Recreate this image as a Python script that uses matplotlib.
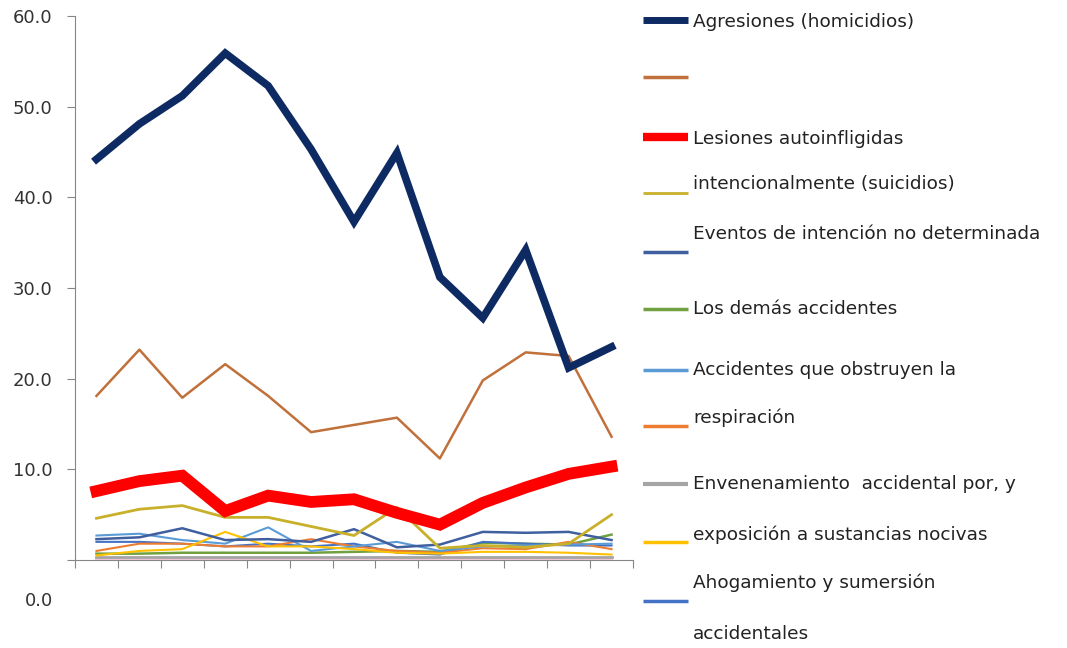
import matplotlib
matplotlib.use("Agg")
import matplotlib.pyplot as plt
from matplotlib.lines import Line2D
import numpy as np

plt.rcParams['font.family'] = ['DejaVu Sans']

# 13 periods, no category labels shown on the x axis
n_periods = 13

agresiones = [44.2, 48.1, 51.2, 55.9, 52.3, 45.3, 37.3, 44.9, 31.2, 26.7, 34.2, 21.2, 23.5]
sin_nombre = [18.1, 23.2, 17.9, 21.6, 18.1, 14.1, 14.9, 15.7, 11.2, 19.8, 22.9, 22.5, 13.6]
suicidios = [7.6, 8.7, 9.3, 5.4, 7.1, 6.4, 6.7, 5.2, 3.9, 6.3, 8.0, 9.5, 10.3]
suicidios_b = [4.6, 5.6, 6.0, 4.7, 4.7, 3.7, 2.7, 5.8, 1.3, 1.6, 1.4, 1.8, 5.0]
eventos = [2.3, 2.5, 3.5, 2.2, 2.3, 2.0, 3.4, 1.4, 1.7, 3.1, 3.0, 3.1, 2.2]
demas = [0.7, 0.7, 0.8, 0.8, 0.8, 0.8, 0.9, 1.0, 0.9, 1.9, 1.8, 1.7, 2.8]
obstruyen = [2.7, 2.9, 2.2, 1.8, 3.6, 1.0, 1.5, 2.0, 1.0, 1.5, 1.6, 1.7, 1.8]
respiracion = [1.0, 1.8, 1.8, 1.5, 1.5, 2.3, 1.5, 1.0, 0.8, 1.3, 1.2, 2.0, 1.2]
envenenamiento = [0.3, 0.3, 0.3, 0.3, 0.3, 0.3, 0.3, 0.3, 0.3, 0.3, 0.3, 0.3, 0.3]
exposicion = [0.5, 1.0, 1.2, 3.1, 1.5, 1.5, 1.2, 0.8, 0.7, 0.9, 0.9, 0.8, 0.6]
ahogamiento = [2.0, 2.0, 1.8, 1.5, 1.8, 1.5, 1.8, 0.8, 0.6, 2.0, 1.8, 1.6, 1.6]
accidentales = [0.1, 0.1, 0.1, 0.1, 0.1, 0.1, 0.1, 0.1, 0.1, 0.1, 0.1, 0.1, 0.1]

y_ticks = [0, 10, 20, 30, 40, 50, 60]

# (values, colour, width) in drawing order: small ones first, big ones on top
series = [
    (accidentales, '#F4C8D8', 1.5),
    (envenenamiento, '#A5A5A5', 2.0),
    (demas, '#70A040', 1.8),
    (ahogamiento, '#4472C4', 1.5),
    (respiracion, '#ED7D31', 1.5),
    (obstruyen, '#5B9BD5', 1.5),
    (exposicion, '#FFC000', 1.5),
    (eventos, '#3F5F9F', 1.8),
    (suicidios_b, '#C8B02A', 2.0),
    (sin_nombre, '#C0703A', 1.8),
    (suicidios, '#FF0000', 8.5),
    (agresiones, '#0E2A63', 5.5),
]

fig = plt.figure(figsize=(10.67, 6.48), dpi=100)
ax = fig.add_axes([75 / 1067, 1 - 560 / 648, (633 - 75) / 1067, (560 - 16) / 648])

x = np.arange(n_periods) + 0.5
for vals, col, lw in series:
    ax.plot(x, vals, color=col, linewidth=lw, solid_joinstyle='miter' if lw > 4 else 'round')

ax.set_xlim(0, n_periods)
ax.set_ylim(0, 60)
ax.set_xticks(np.arange(n_periods + 1))
ax.set_xticklabels([])
ax.set_yticks(y_ticks)
ax.set_yticklabels(['' if v == 0 else f'{v:.1f}' for v in y_ticks], fontsize=13, color='#333333')
ax.text(-0.04, -0.075, '0.0', transform=ax.transAxes, ha='right', va='center', fontsize=13, color='#333333')
ax.tick_params(axis='both', color='#868686', length=6, direction='out')
ax.tick_params(axis='y', pad=10)
for s in ['top', 'right']:
    ax.spines[s].set_visible(False)
for s in ['left', 'bottom']:
    ax.spines[s].set_color('#868686')

# legend drawn as in the source: keys and wrapped texts do not line up
legend_keys = [
    (20, '#0E2A63', 5.0), (77, '#C0703A', 2.5), (137, '#FF0000', 6.0),
    (193, '#C8B02A', 2.0), (252, '#3F5F9F', 2.5), (309, '#70A040', 2.5),
    (370, '#5B9BD5', 2.5), (426, '#ED7D31', 2.5), (484, '#A5A5A5', 3.0),
    (542, '#FFC000', 2.5), (601, '#4472C4', 2.5),
]
legend_texts = [
    (22, 'Agresiones (homicidios)'),
    (139, 'Lesiones autoinfligidas'),
    (184, 'intencionalmente (suicidios)'),
    (234, 'Eventos de intención no determinada'),
    (309, 'Los demás accidentes'),
    (370, 'Accidentes que obstruyen la'),
    (418, 'respiración'),
    (484, 'Envenenamiento  accidental por, y'),
    (535, 'exposición a sustancias nocivas'),
    (583, 'Ahogamiento y sumersión'),
    (634, 'accidentales'),
]
for yk, col, lw in legend_keys:
    fig.add_artist(Line2D([643 / 1067, 688 / 1067], [1 - yk / 648, 1 - yk / 648],
                          color=col, linewidth=lw, solid_capstyle='butt',
                          transform=fig.transFigure))
for yt, txt in legend_texts:
    fig.text(693 / 1067, 1 - yt / 648, txt, ha='left', va='center', fontsize=13.3, color='#222222')

fig.savefig('out.png', dpi=100)
